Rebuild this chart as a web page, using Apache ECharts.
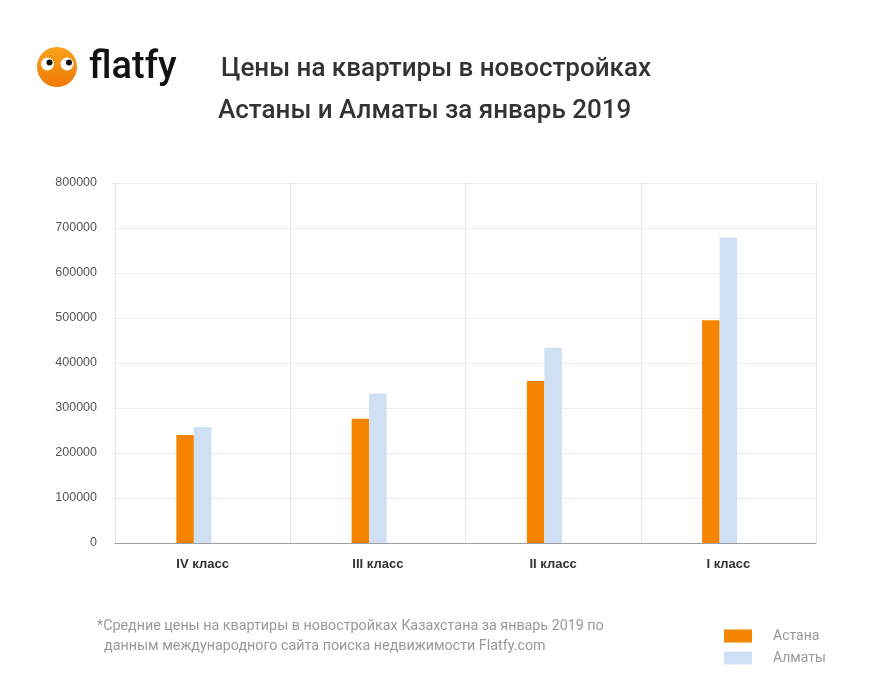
<!DOCTYPE html>
<html><head><meta charset="utf-8">
<script src="https://cdn.jsdelivr.net/npm/echarts@6/dist/echarts.min.js"></script>
<style>html,body{margin:0;padding:0;background:#fff}#c{width:870px;height:678px}</style>
</head><body><div id="c"></div>
<script>
const categories = ['IV класс', 'III класс', 'II класс', 'I класс'];
const astana = [240000, 276000, 360000, 495000];
const almaty = [258000, 332000, 434000, 679000];
const spacer = [null, null, null, null];
const yTicks = { min: 0, max: 800000, interval: 100000 };
const titleLine1 = 'Цены на квартиры в новостройках';
const titleLine2 = 'Астаны и Алматы за январь 2019';
const note1 = '*Средние цены на квартиры в новостройках Казахстана за январь 2019 по';
const note2 = '  данным международного сайта поиска недвижимости Flatfy.com';

const chart = echarts.init(document.getElementById('c'), null, { renderer: 'canvas' });
chart.setOption({
  backgroundColor: '#fff',
  animation: false,
  textStyle: { fontFamily: 'Roboto, Arial, sans-serif' },
  grid: { left: 115, right: 54, top: 183, bottom: 135 },
  legend: {
    data: ['Астана', 'Алматы'],
    orient: 'vertical',
    left: 724, top: 629, padding: 0,
    itemWidth: 28, itemHeight: 13, itemGap: 8,
    icon: 'rect',
    textStyle: { color: '#999', fontSize: 14, fontFamily: 'Roboto, sans-serif', padding: [2, 0, 0, 16] }
  },
  xAxis: {
    type: 'category',
    data: categories,
    axisLine: { lineStyle: { color: '#9e9e9e', width: 1 } },
    axisTick: { show: false },
    axisLabel: { color: '#333', fontSize: 13, fontWeight: 'bold', margin: 15, fontFamily: 'Arial, Liberation Sans, sans-serif' },
    splitLine: { show: true, lineStyle: { color: '#e6e6e6', width: 1 } }
  },
  yAxis: {
    type: 'value',
    min: yTicks.min, max: yTicks.max, interval: yTicks.interval,
    axisLine: { show: false },
    axisTick: { show: true, length: 3, lineStyle: { color: '#ececec' } },
    axisLabel: { color: '#555', fontSize: 12.5, margin: 18, fontFamily: 'Arial, Liberation Sans, sans-serif',
      formatter: v => String(v) },
    splitLine: { lineStyle: { color: '#ececec', width: 1 } }
  },
  series: [
    { name: 'Астана', type: 'bar', data: astana, barWidth: 17.5, barGap: '0%', itemStyle: { color: '#f58400' } },
    { name: 'Алматы', type: 'bar', data: almaty, barWidth: 17.5, barGap: '0%', itemStyle: { color: '#cfdff4' } },
    { name: 'spacer', type: 'bar', data: spacer, barWidth: 17.5, barGap: '0%', itemStyle: { color: 'transparent' } }
  ],
  graphic: [
    { type: 'circle', shape: { cx: 57, cy: 67, r: 20 },
      style: { fill: new echarts.graphic.LinearGradient(0, 0, 0, 1, [{ offset: 0, color: '#f9a21b' }, { offset: 1, color: '#ee7a06' }]) } },
    { type: 'circle', shape: { cx: 47.5, cy: 64, r: 6.5 }, style: { fill: '#fff' } },
    { type: 'circle', shape: { cx: 67, cy: 64, r: 6.5 }, style: { fill: '#fff' } },
    { type: 'circle', shape: { cx: 49.5, cy: 62.5, r: 3 }, style: { fill: '#111' } },
    { type: 'circle', shape: { cx: 69, cy: 62.5, r: 3 }, style: { fill: '#111' } },
    { type: 'text', left: 89, top: 49, style: { text: 'flatfy', fill: '#111', font: '500 38px Roboto, sans-serif' } },
    { type: 'text', left: 221, top: 56, style: { text: titleLine1, fill: '#333', font: '500 26px Roboto, sans-serif' } },
    { type: 'text', left: 218, top: 98, style: { text: titleLine2, fill: '#333', font: '500 26px Roboto, sans-serif' } },
    { type: 'text', left: 97, top: 619, style: { text: note1, fill: '#999', font: '14.3px Roboto, sans-serif' } },
    { type: 'text', left: 97, top: 639, style: { text: note2, fill: '#999', font: '14.3px Roboto, sans-serif' } }
  ]
});
</script></body></html>
